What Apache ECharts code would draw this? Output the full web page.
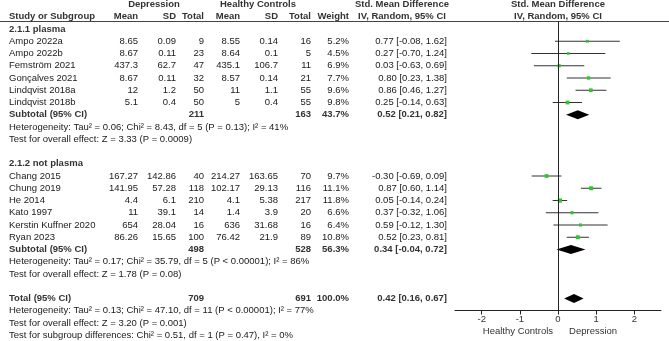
<!DOCTYPE html>
<html>
<head>
<meta charset="utf-8">
<script src="https://cdn.jsdelivr.net/npm/echarts@6/dist/echarts.min.js"></script>
<style>
html, body { margin: 0; padding: 0; background: #fff; }
#chart { width: 669px; height: 341px; }
</style>
</head>
<body>
<div id="chart"></div>
<script>
// 2.1.1 plasma
var studies1 = ['Ampo 2022a', 'Ampo 2022b', 'Femström 2021', 'Gonçalves 2021', 'Lindqvist 2018a', 'Lindqvist 2018b'];
var depMean1 = [8.65, 8.67, 437.3, 8.67, 12, 5.1];
var depSD1 = [0.09, 0.11, 62.7, 0.11, 1.2, 0.4];
var depN1 = [9, 23, 47, 32, 50, 50];
var hcMean1 = [8.55, 8.64, 435.1, 8.57, 11, 5];
var hcSD1 = [0.14, 0.1, 106.7, 0.14, 1.1, 0.4];
var hcN1 = [16, 5, 11, 21, 55, 55];
var weight1 = [5.2, 4.5, 6.9, 7.7, 9.6, 9.8];
var smd1 = [0.77, 0.27, 0.03, 0.80, 0.86, 0.25];
var lo1 = [-0.08, -0.70, -0.63, 0.23, 0.46, -0.14];
var hi1 = [1.62, 1.24, 0.69, 1.38, 1.27, 0.63];

// 2.1.2 not plasma
var studies2 = ['Chang 2015', 'Chung 2019', 'He 2014', 'Kato 1997', 'Kerstin Kuffner 2020', 'Ryan 2023'];
var depMean2 = [167.27, 141.95, 4.4, 11, 654, 86.26];
var depSD2 = [142.86, 57.28, 6.1, 39.1, 28.04, 15.65];
var depN2 = [40, 118, 210, 14, 16, 100];
var hcMean2 = [214.27, 102.17, 4.1, 1.4, 636, 76.42];
var hcSD2 = [163.65, 29.13, 5.38, 3.9, 31.68, 21.9];
var hcN2 = [70, 116, 217, 20, 16, 89];
var weight2 = [9.7, 11.1, 11.8, 6.6, 6.4, 10.8];
var smd2 = [-0.30, 0.87, 0.05, 0.37, 0.59, 0.52];
var lo2 = [-0.69, 0.60, -0.14, -0.32, -0.12, 0.23];
var hi2 = [0.09, 1.14, 0.24, 1.06, 1.30, 0.81];

var groupNames = ['2.1.1 plasma', '2.1.2 not plasma'];
var subDepN = [211, 498];
var subHcN = [163, 528];
var subWeight = [43.7, 56.3];
var subSmd = [0.52, 0.34];
var subLo = [0.21, -0.04];
var subHi = [0.82, 0.72];
var subHet = [
  'Heterogeneity: Tau² = 0.06; Chi² = 8.43, df = 5 (P = 0.13); I² = 41%',
  'Heterogeneity: Tau² = 0.17; Chi² = 35.79, df = 5 (P < 0.00001); I² = 86%'
];
var subEffect = ['Test for overall effect: Z = 3.33 (P = 0.0009)', 'Test for overall effect: Z = 1.78 (P = 0.08)'];

var totalDepN = 709;
var totalHcN = 691;
var totalWeight = 100.0;
var totalSmd = 0.42;
var totalLo = 0.16;
var totalHi = 0.67;
var totalNotes = [
  'Heterogeneity: Tau² = 0.13; Chi² = 47.10, df = 11 (P < 0.00001); I² = 77%',
  'Test for overall effect: Z = 3.20 (P = 0.001)',
  'Test for subgroup differences: Chi² = 0.51, df = 1 (P = 0.47), I² = 0%'
];

var tickVals = [-2, -1, 0, 1, 2];
var axisTitles = ['Healthy Controls', 'Depression'];

// layout
var FONT = '"Liberation Sans", Arial, sans-serif';
var FS = 9.5;
var ROW0 = 4.5, PITCH = 12.25;
var W = 669, H = 341;
var PLOT_TOP = 21, PLOT_AXIS = 310.5;
var COL = { name: 9, dMean: 138, dSD: 176, dN: 204, hMean: 240, hSD: 278, hN: 311, w: 349, ci: 447, ciMid: 402, plotMid: 558 };

function ci(m, l, h) { return m.toFixed(2) + ' [' + l.toFixed(2) + ', ' + h.toFixed(2) + ']'; }

var cells = [];
function txt(x, row, text, align, bold) { cells.push({ x: x, row: row, text: String(text), align: align, bold: !!bold }); }

// header
txt(154, 0, 'Depression', 'center', true);
txt(258, 0, 'Healthy Controls', 'center', true);
txt(COL.ciMid, 0, 'Std. Mean Difference', 'center', true);
txt(COL.plotMid, 0, 'Std. Mean Difference', 'center', true);
txt(COL.name, 1, 'Study or Subgroup', 'left', true);
txt(COL.dMean, 1, 'Mean', 'right', true);
txt(COL.dSD, 1, 'SD', 'right', true);
txt(COL.dN, 1, 'Total', 'right', true);
txt(COL.hMean, 1, 'Mean', 'right', true);
txt(COL.hSD, 1, 'SD', 'right', true);
txt(COL.hN, 1, 'Total', 'right', true);
txt(COL.w, 1, 'Weight', 'right', true);
txt(COL.ciMid, 1, 'IV, Random, 95% CI', 'center', true);
txt(COL.plotMid, 1, 'IV, Random, 95% CI', 'center', true);

var groups = [
  [studies1, depMean1, depSD1, depN1, hcMean1, hcSD1, hcN1, weight1, smd1, lo1, hi1],
  [studies2, depMean2, depSD2, depN2, hcMean2, hcSD2, hcN2, weight2, smd2, lo2, hi2]
];
var studyMarks = [];
var diamonds = [];
var startRows = [2, 13];

groups.forEach(function (g, gi) {
  var r = startRows[gi];
  txt(COL.name, r, groupNames[gi], 'left', true);
  g[0].forEach(function (name, i) {
    var row = r + 1 + i;
    txt(COL.name, row, name, 'left');
    txt(COL.dMean, row, g[1][i], 'right');
    txt(COL.dSD, row, g[2][i], 'right');
    txt(COL.dN, row, g[3][i], 'right');
    txt(COL.hMean, row, g[4][i], 'right');
    txt(COL.hSD, row, g[5][i], 'right');
    txt(COL.hN, row, g[6][i], 'right');
    txt(COL.w, row, g[7][i].toFixed(1) + '%', 'right');
    txt(COL.ci, row, ci(g[8][i], g[9][i], g[10][i]), 'right');
    studyMarks.push([g[8][i], row, g[9][i], g[10][i], g[7][i]]);
  });
  var sr = r + 1 + g[0].length;
  txt(COL.name, sr, 'Subtotal (95% CI)', 'left', true);
  txt(COL.dN, sr, subDepN[gi], 'right', true);
  txt(COL.hN, sr, subHcN[gi], 'right', true);
  txt(COL.w, sr, subWeight[gi].toFixed(1) + '%', 'right', true);
  txt(COL.ci, sr, ci(subSmd[gi], subLo[gi], subHi[gi]), 'right', true);
  diamonds.push([subSmd[gi], sr, subLo[gi], subHi[gi]]);
  txt(COL.name, sr + 1, subHet[gi], 'left');
  txt(COL.name, sr + 2, subEffect[gi], 'left');
});

var totalRow = 24;
txt(COL.name, totalRow, 'Total (95% CI)', 'left', true);
txt(COL.dN, totalRow, totalDepN, 'right', true);
txt(COL.hN, totalRow, totalHcN, 'right', true);
txt(COL.w, totalRow, totalWeight.toFixed(1) + '%', 'right', true);
txt(COL.ci, totalRow, ci(totalSmd, totalLo, totalHi), 'right', true);
diamonds.push([totalSmd, totalRow, totalLo, totalHi]);
totalNotes.forEach(function (t, i) { txt(COL.name, totalRow + 1 + i, t, 'left'); });

var chart = echarts.init(document.getElementById('chart'));

function rowOf(px) { return (px - ROW0) / PITCH; }

var option = {
  animation: false,
  backgroundColor: '#fff',
  grid: [
    { left: 0, right: 0, top: 0, bottom: 0 },
    { left: 455, right: 8, top: PLOT_TOP, bottom: H - PLOT_AXIS }
  ],
  xAxis: [
    { gridIndex: 0, type: 'value', min: 0, max: W, show: false },
    {
      gridIndex: 1, type: 'value', min: -2.7, max: 2.7,
      splitLine: { show: false },
      axisLine: { onZero: false, lineStyle: { color: '#222', width: 1 } },
      axisTick: { customValues: tickVals, length: 4, lineStyle: { color: '#222' } },
      axisLabel: { customValues: tickVals, color: '#333', fontSize: FS, fontFamily: FONT, margin: 4 }
    }
  ],
  yAxis: [
    { gridIndex: 0, type: 'value', inverse: true, min: rowOf(0), max: rowOf(H), show: false },
    { gridIndex: 1, type: 'value', inverse: true, min: rowOf(PLOT_TOP), max: rowOf(PLOT_AXIS), show: false }
  ],
  graphic: [{
    type: 'line', silent: true,
    shape: { x1: 0, y1: 21.5, x2: W, y2: 21.5 },
    style: { stroke: '#444', lineWidth: 1 }
  }],
  series: [
    {
      type: 'custom', xAxisIndex: 0, yAxisIndex: 0, silent: true,
      data: cells.map(function (c) { return [c.x, c.row]; }),
      renderItem: function (params, api) {
        var c = cells[params.dataIndex];
        var p = api.coord([api.value(0), api.value(1)]);
        return {
          type: 'text', x: p[0], y: p[1],
          style: {
            text: c.text, align: c.align, verticalAlign: 'middle',
            font: (c.bold ? 'bold ' : '') + FS + 'px ' + FONT,
            fill: c.bold ? '#333' : '#1a1a1a'
          }
        };
      }
    },
    {
      type: 'custom', xAxisIndex: 1, yAxisIndex: 1, silent: true, clip: false,
      data: studyMarks,
      renderItem: function (params, api) {
        var y = api.value(1);
        var c = api.coord([api.value(0), y]);
        var a = api.coord([api.value(2), y]);
        var b = api.coord([api.value(3), y]);
        var s = 1.8 + api.value(4) * 0.2;
        return {
          type: 'group', children: [
            { type: 'line', shape: { x1: a[0], y1: c[1], x2: b[0], y2: c[1] }, style: { stroke: '#333', lineWidth: 1 } },
            { type: 'rect', shape: { x: c[0] - s / 2, y: c[1] - s / 2, width: s, height: s }, style: { fill: '#2ec52e' } }
          ]
        };
      },
      markLine: {
        silent: true, symbol: 'none', label: { show: false },
        lineStyle: { color: '#222', type: 'solid', width: 1 },
        data: [{ xAxis: 0 }]
      }
    },
    {
      type: 'custom', xAxisIndex: 1, yAxisIndex: 1, silent: true, clip: false,
      data: diamonds,
      renderItem: function (params, api) {
        var y = api.value(1);
        var c = api.coord([api.value(0), y]);
        var a = api.coord([api.value(2), y]);
        var b = api.coord([api.value(3), y]);
        return {
          type: 'polygon',
          shape: { points: [[a[0], c[1]], [c[0], c[1] - 4.5], [b[0], c[1]], [c[0], c[1] + 4.5]] },
          style: { fill: '#000' }
        };
      }
    },
    {
      type: 'custom', xAxisIndex: 1, yAxisIndex: 1, silent: true, clip: false,
      data: [[-1.05, rowOf(331)], [0.92, rowOf(331)]],
      renderItem: function (params, api) {
        var p = api.coord([api.value(0), api.value(1)]);
        return {
          type: 'text', x: p[0], y: p[1],
          style: { text: axisTitles[params.dataIndex], align: 'center', verticalAlign: 'middle', font: FS + 'px ' + FONT, fill: '#333' }
        };
      }
    }
  ]
};

chart.setOption(option);
</script>
</body>
</html>
